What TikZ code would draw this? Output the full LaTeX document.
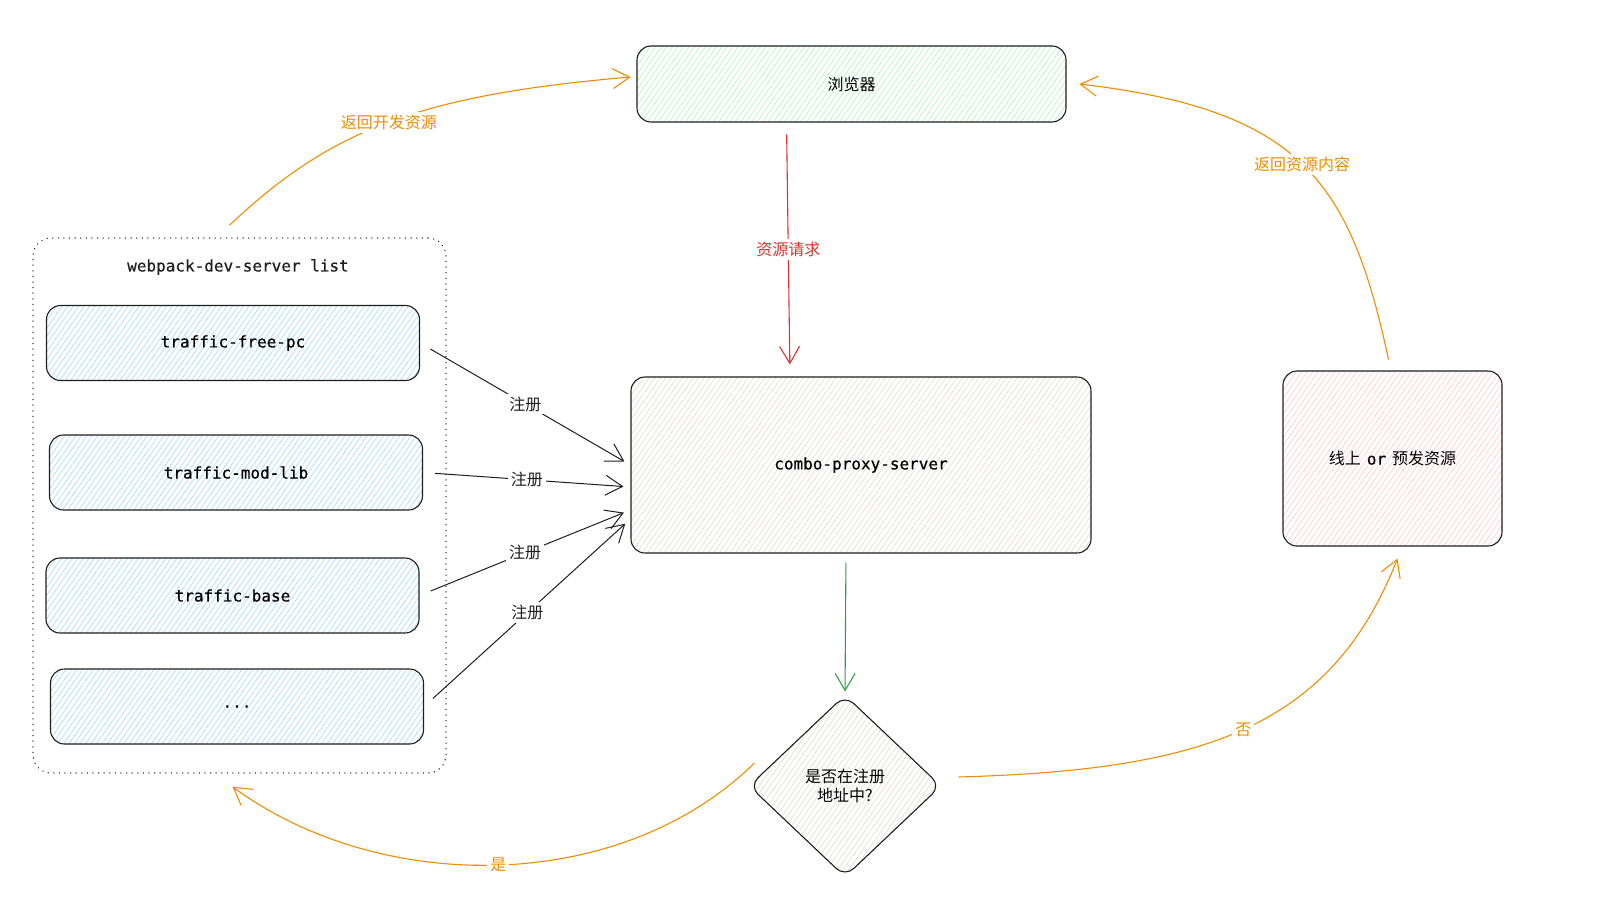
\documentclass[tikz,border=0pt]{standalone}
\usepackage{fontspec}
\setmonofont{DejaVu Sans Mono}[FakeBold=0.5]
\newfontfamily\cjk{Noto Sans CJK SC}
\usetikzlibrary{shapes.geometric,patterns.meta,arrows.meta,calc}
\definecolor{inkdark}{HTML}{1E1E1E}
\definecolor{hatchgreen}{HTML}{B2F2BB}
\definecolor{hatchblue}{HTML}{A5D8FF}
\definecolor{hatchred}{HTML}{FFC9C9}
\definecolor{hatchgrey}{HTML}{E6D8D2}
\definecolor{arroworange}{HTML}{F08C00}
\definecolor{arrowred}{HTML}{E03131}
\definecolor{arrowgreen}{HTML}{2F9E44}

\begin{document}
\begin{tikzpicture}[x=1pt,y=-1pt,
			hatch/.style={pattern={Lines[angle=55,distance=4.5pt,line width=0.6pt]}},
			box/.style={draw=inkdark,line width=1.1pt,rounded corners=14pt,hatch,inner sep=0pt,
				font=\fontsize{16}{20}\selectfont},
			devbox/.style={box,pattern color=hatchblue,minimum width=373pt,minimum height=75pt,
				font=\fontsize{16}{20}\selectfont\ttfamily},
			tip/.style={-{Straight Barb[length=17pt,width=20pt]}},
			reg/.style={tip,draw=inkdark,line width=1pt,shorten <=12pt,shorten >=7pt},
			reglbl/.style={fill=white,inner sep=3pt,text=inkdark,font=\fontsize{16}{20}\selectfont\cjk},
			back/.style={tip,draw=arroworange,line width=1.1pt},
			backlbl/.style={fill=white,inner sep=3pt,text=arroworange,font=\fontsize{16}{20}\selectfont\cjk}]
			\useasboundingbox (0,0) rectangle (1612,905);
			\node[box,pattern color=hatchgreen,minimum width=429pt,minimum height=76pt,font=\fontsize{16}{20}\selectfont\cjk]
				(browser) at (851.5,84) {浏览器};
			\node[draw=inkdark,line width=1.4pt,line cap=round,dash pattern=on 0.1pt off 5.5pt,rounded corners=18pt,
				minimum width=413pt,minimum height=535pt] (grp) at (239.5,505.5) {};
			\node[font=\fontsize{16}{20}\selectfont\ttfamily,text=inkdark] (title) at (238,267) {webpack-dev-server list};
			\node[devbox] (fp) at (233,343) {traffic-free-pc};
			\node[devbox] (ml) at (236,472.5) {traffic-mod-lib};
			\node[devbox] (base) at (232.5,595.5) {traffic-base};
			\node[devbox] (more) at (237,706.5) {...};
			\node[box,pattern color=hatchgrey,minimum width=460pt,minimum height=176pt,font=\fontsize{16}{20}\selectfont\ttfamily]
				(combo) at (861,465) {combo-proxy-server};
			\node[box,pattern color=hatchred,minimum width=219pt,minimum height=175pt]
				(online) at (1392.5,458.5) {{\cjk 线上}\hspace{6pt}{\ttfamily or}\hspace{6pt}{\cjk 预发资源}};
			\node[diamond,draw=inkdark,line width=1.1pt,rounded corners=12pt,hatch,pattern color=hatchgrey,
				minimum width=192pt,minimum height=182pt,inner sep=0pt,align=center,
				font=\fontsize{16}{19}\selectfont\cjk] (dia) at (845,786) {是否在注册\\地址中?};

			\draw[tip,draw=arrowred,line width=1.1pt,shorten <=12pt,shorten >=12pt]
				($(browser.south)+(-65,0)$) -- node[fill=white,inner sep=3pt,text=arrowred,font=\fontsize{16}{20}\selectfont\cjk] {资源请求}
				($(combo.north)+(-71,0)$);
			\draw[tip,draw=arrowgreen,line width=1.1pt,shorten <=9pt,shorten >=3pt]
				($(combo.south)+(-15,0)$) -- (dia.north);

			\draw[reg] (fp.east) -- node[reglbl] {注册} (combo.west);
			\draw[reg] (ml.east) -- node[reglbl] {注册} ($(combo.west)+(0,22)$);
			\draw[reg] (base.east) -- node[reglbl] {注册} ($(combo.west)+(0,45)$);
			\draw[reg] (more.east) -- node[reglbl] {注册} ($(combo.west)+(0,54)$);

			\draw[back] ($(grp.north)+(-10,-12)$) .. controls (330,130) and (420,95) ..
				node[backlbl] {返回开发资源} ($(browser.west)+(-6,-7)$);
			\draw[back] ($(online.north)+(-4,-11)$) .. controls (1350,180) and (1300,110) ..
				node[backlbl] {返回资源内容} ($(browser.east)+(13,0)$);
			\draw[back] ($(dia.east)+(17,-9)$) .. controls (1200,770) and (1330,730) ..
				node[backlbl] {否} ($(online.south)+(5,12)$);
			\draw[back] ($(dia.west)+(6,-23)$) .. controls (620,895) and (380,895) ..
				node[backlbl] {是} ($(grp.south)+(-7,13)$);
\end{tikzpicture}
\end{document}
